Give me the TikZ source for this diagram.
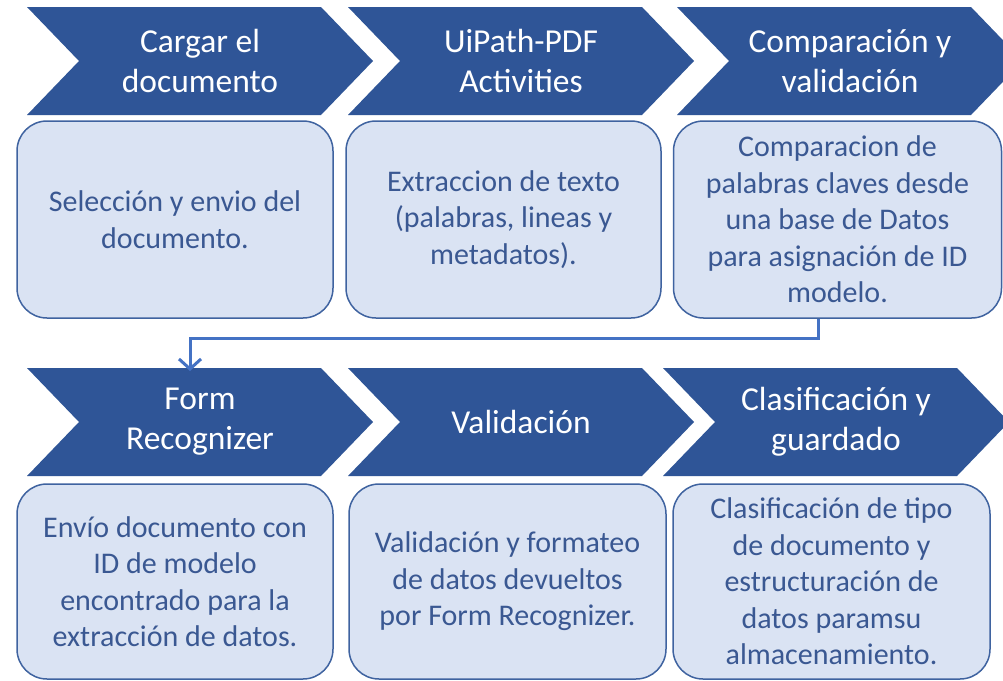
\documentclass[tikz,border=0pt]{standalone}
\usepackage{fontspec}
\setmainfont{Carlito}
\usetikzlibrary{arrows.meta}
\definecolor{chevblue}{HTML}{2F5597}
\definecolor{boxfill}{HTML}{DAE3F3}
\definecolor{boxline}{HTML}{3F63A0}
\definecolor{boxtext}{HTML}{3A5892}
\definecolor{connblue}{HTML}{4472C4}
\tikzset{
  chevshape/.style={fill=chevblue},
  chevtext/.style={text=white, align=center, inner sep=0pt, font=\fontsize{33.5}{40}\selectfont},
  infobox/.style={draw=boxline, line width=1.5pt, fill=boxfill, rounded corners=30pt,
    text=boxtext, align=center, inner sep=0pt, font=\fontsize{30}{36.5}\selectfont},
  conn/.style={draw=connblue, line width=3pt, -{Straight Barb[length=10pt,width=22pt]}},
}
% name, left x, top y, text
\newcommand{\chevdraw}[4]{%
  \fill[chevshape] (#2,#3) -- (#2+294,#3) -- (#2+346,#3+54) -- (#2+294,#3+108)
    -- (#2,#3+108) -- (#2+52,#3+54) -- cycle;
  \node[chevtext] (#1) at (#2+173,#3+54) {#4};
}
\begin{document}
\begin{tikzpicture}[x=1pt,y=-1pt]
\useasboundingbox[fill=white] (0,0) rectangle (1003,680);

% row 1 chevrons
\chevdraw{c1}{27}{7}{Cargar el\\documento}
\chevdraw{c2}{348}{7}{UiPath-PDF\\Activities}
\chevdraw{c3}{677}{7}{Comparación y\\validación}

% row 1 boxes
\node[infobox, minimum width=316pt, minimum height=197pt] (b1) at (175,219.5)
  {Selección y envio del\\documento.};
\node[infobox, minimum width=315pt, minimum height=197pt] (b2) at (503.5,219.5)
  {Extraccion de texto\\(palabras, lineas y\\metadatos).};
\node[infobox, minimum width=328pt, minimum height=197pt] (b3) at (837.5,219.5)
  {Comparacion de\\palabras claves desde\\una base de Datos\\para asignación de ID\\modelo.};

% row 2 chevrons
\chevdraw{c4}{27}{368}{Form\\Recognizer}
\chevdraw{c5}{348}{368}{Validación}
\chevdraw{c6}{663}{368}{Clasificación y\\guardado}

% row 2 boxes
\node[infobox, minimum width=316pt, minimum height=195pt] (b4) at (175,581.5)
  {Envío documento con\\ID de modelo\\encontrado para la\\extracción de datos.};
\node[infobox, minimum width=317pt, minimum height=195pt] (b5) at (507.5,581.5)
  {Validación y formateo\\de datos devueltos\\por Form Recognizer.};
\node[infobox, minimum width=317pt, minimum height=195pt] (b6) at (831.5,581.5)
  {Clasificación de tipo\\de documento y\\estructuración de\\datos paramsu\\almacenamiento.};

% connector
\coordinate (start) at ([xshift=-19.5pt]b3.south);
\coordinate (target) at (190,371);
\draw[conn] (start) -- ++(0,20) -| (target);
\end{tikzpicture}
\end{document}
